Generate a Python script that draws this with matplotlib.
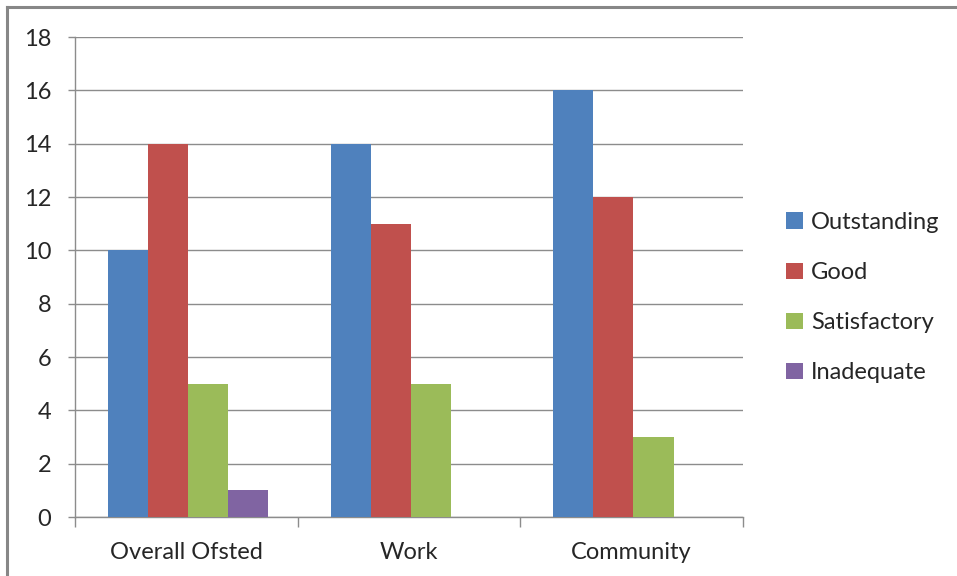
import numpy as np
import matplotlib.pyplot as plt
from matplotlib.lines import Line2D
from matplotlib.patches import Patch

plt.rcParams['font.family'] = ['Lato', 'DejaVu Sans']

categories = ["Overall Ofsted", "Work", "Community"]
series_names = ["Outstanding", "Good", "Satisfactory", "Inadequate"]
outstanding = [10, 14, 16]
good = [14, 11, 12]
satisfactory = [5, 5, 3]
inadequate = [1, 0, 0]
y_ticks = [0, 2, 4, 6, 8, 10, 12, 14, 16, 18]

series_values = [outstanding, good, satisfactory, inadequate]
colors = ["#4F81BD", "#C0504D", "#9BBB59", "#8064A2"]
grid_color = "#8C8C8C"
text_color = "#262626"

W, H = 957, 576
fig = plt.figure(figsize=(W / 100, H / 100), dpi=100)

# plot area in pixel terms
left, right, top, bottom = 75, 743, 37, 517
ax = fig.add_axes([left / W, 1 - bottom / H, (right - left) / W, (bottom - top) / H])

x = np.arange(len(categories))
bar_w = 0.18
for i, (name, vals, c) in enumerate(zip(series_names, series_values, colors)):
    ax.bar(x + (i - 1.5) * bar_w + 0.008, vals, width=bar_w, color=c, label=name,
           linewidth=0, zorder=3)

ax.set_xlim(-0.5, len(categories) - 0.5)
ax.set_ylim(0, 18)
ax.set_yticks(y_ticks)
ax.set_yticklabels([str(v) for v in y_ticks])
ax.yaxis.grid(True, color=grid_color, linewidth=1.0, zorder=0)

# category labels at centres, tick marks at the boundaries
ax.set_xticks(x)
ax.set_xticklabels(categories)
ax.set_xticks(np.arange(len(categories) + 1) - 0.5, minor=True)
ax.tick_params(axis='x', which='major', length=0, pad=18, labelsize=17, colors=text_color)
ax.tick_params(axis='x', which='minor', length=7, width=1, color=grid_color)
ax.tick_params(axis='y', length=5, width=1, color=grid_color, pad=12,
               labelsize=17, labelcolor=text_color)

for s in ['top', 'right']:
    ax.spines[s].set_visible(False)
for s in ['left', 'bottom']:
    ax.spines[s].set_color(grid_color)
    ax.spines[s].set_linewidth(1.0)

handles = [Patch(facecolor=c, edgecolor='none') for c in colors]
fig.legend(handles, series_names, loc='upper left',
           bbox_to_anchor=(786 / W, 1 - 212 / H), frameon=False,
           fontsize=17, handlelength=0.7, handleheight=0.7,
           handletextpad=0.35, labelspacing=1.23, labelcolor=text_color,
           borderaxespad=0, borderpad=0)

# outer chart border
fig.add_artist(Line2D([7 / W, 7 / W], [0, 1 - 7 / H], color="#878787", linewidth=2.2,
                      transform=fig.transFigure))
fig.add_artist(Line2D([7 / W, 1], [1 - 7 / H, 1 - 7 / H], color="#878787", linewidth=2.2,
                      transform=fig.transFigure))

fig.savefig("out.png", dpi=100)
